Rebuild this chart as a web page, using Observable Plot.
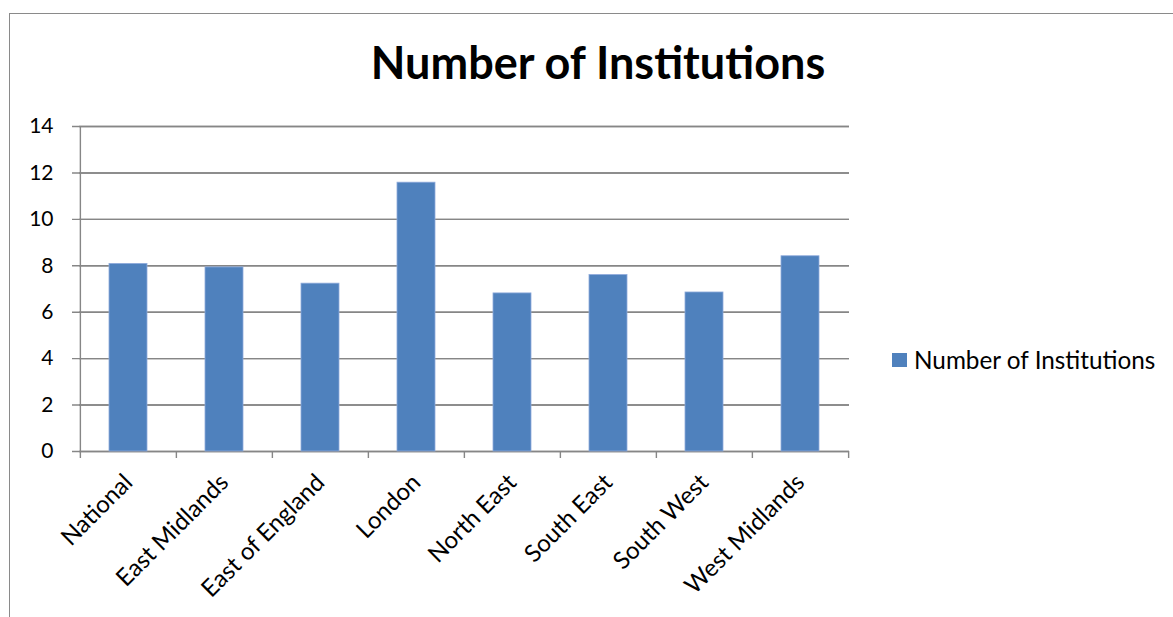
<!DOCTYPE html>
<html>
<head>
<meta charset="utf-8">
<script src="https://cdn.jsdelivr.net/npm/d3@7"></script>
<script src="https://cdn.jsdelivr.net/npm/@observablehq/plot@0.6"></script>
<style>
  html, body { margin: 0; padding: 0; background: #fff; overflow: hidden; }
  #wrap { position: relative; width: 1173px; height: 617px; overflow: hidden; font-family: Lato, "Open Sans", sans-serif; }
  #frame { position: absolute; left: 9px; top: 13px; width: 1300px; height: 700px; border-left: 1.5px solid #8a8a8a; border-top: 1.5px solid #8a8a8a; }
  #title { position: absolute; left: 0; width: 1196px; top: 35px; text-align: center; font-weight: bold; font-size: 45px; color: #000; }
  #chart { position: absolute; left: 0; top: 0; }
  #legend { position: absolute; left: 892px; top: 345px; font-size: 24.3px; color: #000; display: flex; align-items: center; }
  #legend .sw { width: 15px; height: 14px; background: #4F81BD; margin-right: 7px; }
</style>
</head>
<body>
<div id="wrap">
  <div id="frame"></div>
  <div id="chart"></div>
  <div id="title">Number of Institutions</div>
  <div id="legend"><span class="sw"></span><span>Number of Institutions</span></div>
</div>
<script>
const regions = ["National", "East Midlands", "East of England", "London", "North East", "South East", "South West", "West Midlands"];
const institutions = [8.08, 7.93, 7.23, 11.58, 6.81, 7.6, 6.85, 8.41];
const yTicks = [0, 2, 4, 6, 8, 10, 12, 14];

const data = regions.map((r, i) => ({region: r, value: institutions[i]}));

const W = 1173, H = 617;
const mL = 79, mR = 324, mT = 126, mB = 166;
const step = (W - mL - mR) / regions.length;
const gray = "#868686";

const chart = Plot.plot({
  width: W,
  height: H,
  marginLeft: mL,
  marginRight: mR,
  marginTop: mT,
  marginBottom: mB,
  style: {fontFamily: "Lato, 'Open Sans', sans-serif", fontSize: "21px", color: "#000", background: "transparent"},
  x: {type: "band", domain: regions, paddingInner: 0.6, paddingOuter: 0.3, label: null},
  y: {domain: [0, 14], ticks: yTicks, label: null},
  marks: [
    Plot.gridY(yTicks, {stroke: gray, strokeOpacity: 1, strokeWidth: 1.4, x1: null}),
    Plot.ruleY(yTicks, {y: d => d, stroke: gray, strokeWidth: 1.4, x1: null, x2: null, insetLeft: -7}),
    Plot.barY(data, {x: "region", y: "value", fill: "#4F81BD", stroke: "#8EAADB", strokeWidth: 0.8}),
    Plot.ruleX([regions[0]], {x: d => d, y1: 14, y2: 0, insetBottom: -7, dx: -step / 2, stroke: gray, strokeWidth: 1.4}),
    Plot.ruleX(regions.slice(1), {x: d => d, y1: 0, y2: 0, insetBottom: -7, dx: -step / 2, stroke: gray, strokeWidth: 1.4}),
    Plot.ruleX([regions[regions.length - 1]], {x: d => d, y1: 0, y2: 0, insetBottom: -7, dx: step / 2, stroke: gray, strokeWidth: 1.4}),
    Plot.axisY({ticks: yTicks, tickSize: 0, tickPadding: 26, fontSize: 21, tickFormat: d => String(d)}),
    Plot.axisX({tickSize: 0, tickRotate: -45, tickPadding: 27, fontSize: 24, label: null})
  ]
});
document.getElementById("chart").appendChild(chart);
</script>
</body>
</html>
